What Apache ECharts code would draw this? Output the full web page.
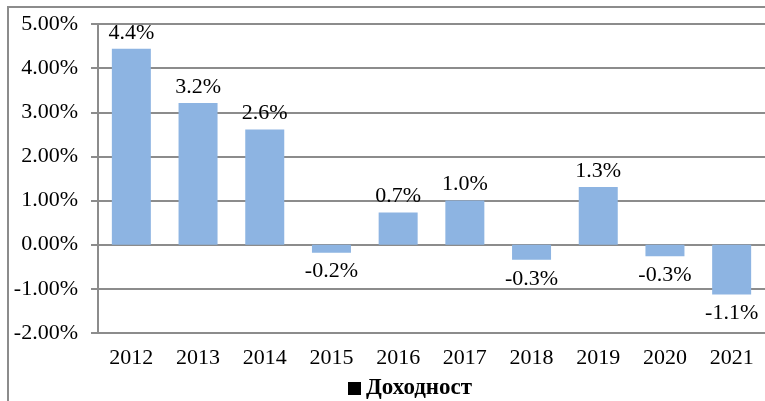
<!DOCTYPE html>
<html>
<head>
<meta charset="utf-8">
<script src="https://cdn.jsdelivr.net/npm/echarts@6/dist/echarts.min.js"></script>
<style>
html, body { margin: 0; padding: 0; background: #fff; }
#chart { width: 765px; height: 401px; }
</style>
</head>
<body>
<div id="chart"></div>
<script>
const years = ['2012', '2013', '2014', '2015', '2016', '2017', '2018', '2019', '2020', '2021'];
const returns = [4.44, 3.21, 2.61, -0.18, 0.73, 1.0, -0.34, 1.31, -0.26, -1.13];
const seriesName = 'Доходност';

const font = 'Liberation Serif';
const gridColor = '#8c8c8c';

const myChart = echarts.init(document.getElementById('chart'));

const barData = returns.map(v => ({
    value: v,
    label: { position: v < 0 ? 'bottom' : 'top', distance: v < 0 ? 8 : 5 }
}));

const option = {
    animation: false,
    textStyle: { fontFamily: font },
    graphic: [{
        type: 'rect',
        shape: { x: 8, y: 7, width: 800, height: 500 },
        style: { fill: 'none', stroke: gridColor, lineWidth: 2 },
        silent: true
    }],
    grid: {
        left: 98,
        top: 24,
        right: -6,
        bottom: 68
    },
    legend: {
        top: 372,
        left: 343,
        icon: 'rect',
        itemWidth: 13,
        itemHeight: 13,
        data: [{ name: seriesName, itemStyle: { color: '#000' } }],
        textStyle: { fontFamily: font, fontSize: 23, fontWeight: 'bold', color: '#000' }
    },
    xAxis: {
        type: 'category',
        data: years,
        axisLine: { onZero: false, lineStyle: { color: gridColor, width: 2 } },
        axisTick: { show: false },
        axisLabel: { color: '#000', fontFamily: font, fontSize: 22, margin: 14 }
    },
    yAxis: {
        type: 'value',
        min: -2,
        max: 5,
        interval: 1,
        axisLine: { show: true, lineStyle: { color: gridColor, width: 2 } },
        axisTick: { show: true, length: 7, lineStyle: { color: gridColor, width: 2 } },
        splitLine: { lineStyle: { color: gridColor, width: 2 } },
        axisLabel: {
            color: '#000',
            fontFamily: font,
            fontSize: 22,
            margin: 20,
            formatter: v => v.toFixed(2) + '%'
        }
    },
    series: [{
        name: seriesName,
        type: 'bar',
        data: barData,
        barWidth: 39,
        itemStyle: { color: '#8db4e2' },
        label: {
            show: true,
            color: '#000',
            fontFamily: font,
            fontSize: 22,
            formatter: p => p.value.toFixed(1) + '%'
        }
    }]
};

myChart.setOption(option, true);
</script>
</body>
</html>
